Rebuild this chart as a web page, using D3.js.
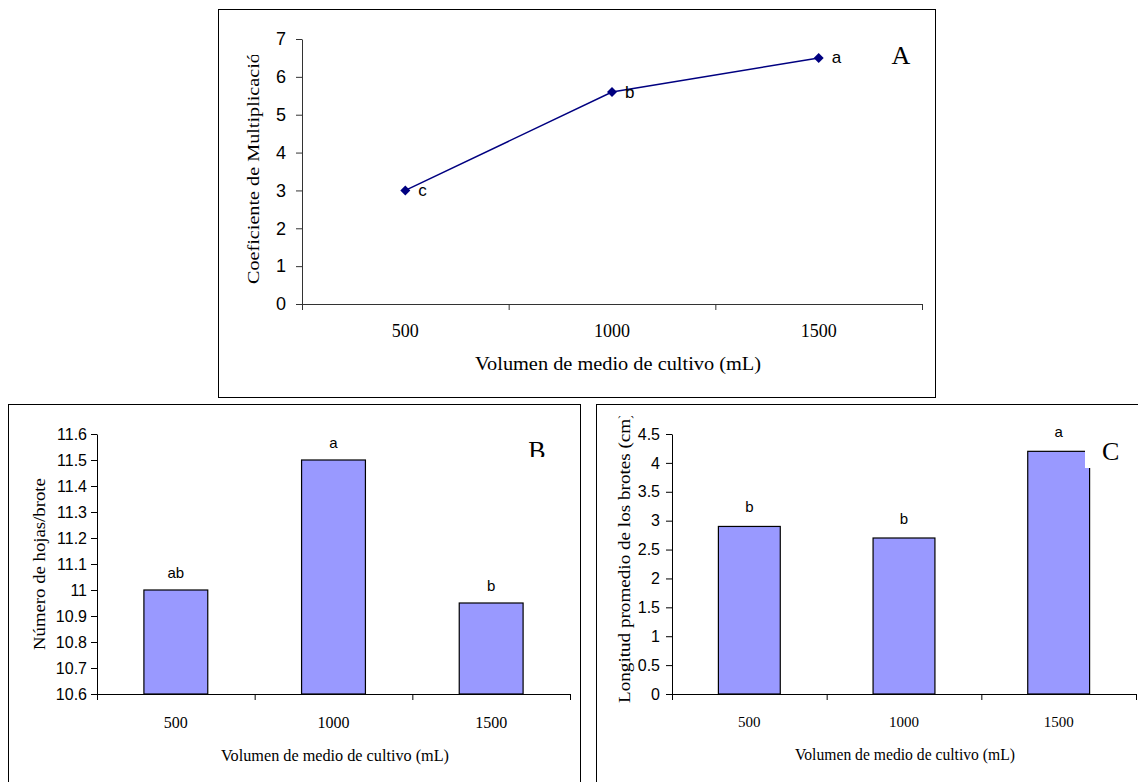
<!DOCTYPE html>
<html>
<head>
<meta charset="utf-8">
<script src="https://cdn.jsdelivr.net/npm/d3@7"></script>
<style>
  body { margin: 0; background: #fff; }
  svg { display: block; }
  .serif { font-family: "Liberation Serif", "Times New Roman", serif; }
  .sans { font-family: "Liberation Sans", Arial, sans-serif; }
</style>
</head>
<body>
<div id="chart"></div>
<script>
// data
const volumes = ["500", "1000", "1500"];
const coefMult = [3.0, 5.6, 6.5];
const lettersA = ["c", "b", "a"];
const hojas = [11.0, 11.5, 10.95];
const lettersB = ["ab", "a", "b"];
const longitud = [2.9, 2.7, 4.2];
const lettersC = ["b", "b", "a"];
const ticksA = [0, 1, 2, 3, 4, 5, 6, 7];
const ticksB = [10.6, 10.7, 10.8, 10.9, 11.0, 11.1, 11.2, 11.3, 11.4, 11.5, 11.6];
const ticksC = [0, 0.5, 1, 1.5, 2, 2.5, 3, 3.5, 4, 4.5];
const xTitle = "Volumen de medio de cultivo (mL)";

const W = 1138, H = 782;
const svg = d3.select("#chart").append("svg")
  .attr("width", W).attr("height", H);

const defs = svg.append("defs");
let clipN = 0;
function clipRect(x, y, w, h) {
  const id = "clip" + (clipN++);
  defs.append("clipPath").attr("id", id).append("rect")
    .attr("x", x).attr("y", y).attr("width", w).attr("height", h);
  return `url(#${id})`;
}

// panel frames
svg.append("rect").attr("x", 218.5).attr("y", 9.5).attr("width", 717).attr("height", 388)
  .attr("fill", "none").attr("stroke", "#000");
svg.append("rect").attr("x", 8.5).attr("y", 404.5).attr("width", 572).attr("height", 400)
  .attr("fill", "none").attr("stroke", "#000");
svg.append("rect").attr("x", 596.5).attr("y", 404.5).attr("width", 600).attr("height", 400)
  .attr("fill", "none").attr("stroke", "#000");

// shared axis builder
function drawAxes(opt) {
  const g = svg.append("g");
  const xLin = d3.scaleLinear().domain([0, volumes.length]).range([opt.x0, opt.x1]);
  const xb = d3.scaleBand().domain(volumes).range([opt.x0, opt.x1])
    .paddingInner(opt.pad).paddingOuter(opt.pad / 2);
  const y = d3.scaleLinear().domain(opt.yDomain).range([opt.yBottom, opt.yTop]);

  // y axis
  const ya = g.append("g").attr("transform", `translate(${opt.x0},0)`)
    .call(d3.axisLeft(y).tickValues(opt.yTicks).tickSize(6).tickSizeOuter(0)
      .tickPadding(opt.yPad).tickFormat(d => String(+d.toFixed(2))));
  ya.selectAll("text").attr("class", "sans").style("font-size", opt.yFont + "px")
    .attr("fill", "#000");
  ya.selectAll("line,path").attr("stroke", opt.axisColor);

  // x axis line with ticks at band edges
  const xa = g.append("g").attr("transform", `translate(0,${opt.yBottom})`)
    .call(d3.axisBottom(xLin).tickValues(d3.range(volumes.length + 1)).tickSize(6)
      .tickSizeOuter(0).tickFormat(""));
  xa.selectAll("line,path").attr("stroke", opt.axisColor);

  // category labels
  const xl = g.append("g").attr("transform", `translate(0,${opt.yBottom})`)
    .call(d3.axisBottom(xb).tickSize(0).tickPadding(opt.xPad));
  xl.select(".domain").remove();
  xl.selectAll("text").attr("class", "serif").style("font-size", opt.xFont + "px")
    .attr("fill", "#000");

  // x axis title, stretched to the width seen in the figure
  g.append("text").attr("class", "serif")
    .attr("x", opt.xTitleX).attr("y", opt.xTitleY)
    .attr("text-anchor", "middle").style("font-size", opt.titleFont + "px")
    .attr("textLength", opt.xTitleLen).attr("lengthAdjust", "spacingAndGlyphs")
    .text(xTitle);

  // y axis title: starts at the bottom, stretched along its baseline
  const yg = g.append("g");
  if (opt.yTitleClip) yg.attr("clip-path", clipRect(0, opt.yTitleClip, W, H));
  const yt = yg.append("text").attr("class", "serif")
    .attr("text-anchor", "start").attr("dominant-baseline", "central")
    .style("font-size", opt.yTitleFont + "px")
    .text(opt.yTitle);
  const n = opt.yTitleChars || opt.yTitle.length;
  const natural = yt.node().getSubStringLength(0, n);
  const s = opt.yTitleLen / natural;
  yt.attr("transform",
    `translate(${opt.yTitleX},${opt.yTitleBottom}) rotate(-90) scale(${s},1)`);
  return {g, xb, y};
}

// Panel A: line chart
const A = drawAxes({
  x0: 302, x1: 922, yBottom: 304, yTop: 39, yDomain: [0, 7], yTicks: ticksA,
  pad: 0.6, yPad: 10, yFont: 18, xPad: 20, xFont: 18, axisColor: "#333",
  titleFont: 18, xTitleX: 618, xTitleY: 370, xTitleLen: 286,
  yTitle: "Coeficiente de Multiplicación", yTitleX: 253, yTitleBottom: 284,
  yTitleFont: 17, yTitleChars: 27, yTitleLen: 221, yTitleClip: 55
});
const cx = d => A.xb(d) + A.xb.bandwidth() / 2;
const lineData = volumes.map((v, i) => ({v, val: coefMult[i], lab: lettersA[i]}));
A.g.append("path").datum(lineData)
  .attr("fill", "none").attr("stroke", "#000080").attr("stroke-width", 1.5)
  .attr("d", d3.line().x(d => cx(d.v)).y(d => A.y(d.val)));
A.g.selectAll(".pt").data(lineData).join("path")
  .attr("transform", d => `translate(${cx(d.v)},${A.y(d.val)}) rotate(45)`)
  .attr("d", d3.symbol(d3.symbolSquare, 50))
  .attr("fill", "#000080");
A.g.selectAll(".lab").data(lineData).join("text")
  .attr("class", "sans").style("font-size", "17px")
  .attr("x", d => cx(d.v) + 13).attr("y", d => A.y(d.val))
  .attr("dominant-baseline", "central")
  .text(d => d.lab);
A.g.append("text").attr("class", "serif").style("font-size", "26px")
  .attr("x", 901).attr("y", 64).attr("text-anchor", "middle").text("A");

// bar panels
function drawBars(P, values, letters, off) {
  const data = volumes.map((v, i) => ({v, val: values[i], lab: letters[i]}));
  const base = P.y.range()[0];
  P.g.selectAll(".bar").data(data).join("rect")
    .attr("x", d => P.xb(d.v)).attr("width", P.xb.bandwidth())
    .attr("y", d => P.y(d.val)).attr("height", d => base - P.y(d.val))
    .attr("fill", "#9999FF").attr("stroke", "#000").attr("stroke-width", 1.2);
  P.g.selectAll(".blab").data(data).join("text")
    .attr("class", "sans").style("font-size", "15px")
    .attr("x", d => P.xb(d.v) + P.xb.bandwidth() / 2).attr("y", d => P.y(d.val) - off)
    .attr("text-anchor", "middle").text(d => d.lab);
}

// Panel B
const B = drawAxes({
  x0: 97, x1: 570, yBottom: 694, yTop: 434, yDomain: [10.6, 11.6], yTicks: ticksB,
  pad: 0.595, yPad: 4, yFont: 16, xPad: 23, xFont: 16, axisColor: "#000",
  titleFont: 16, xTitleX: 335, xTitleY: 761, xTitleLen: 228,
  yTitle: "Número de hojas/brote", yTitleX: 39, yTitleBottom: 650,
  yTitleFont: 16, yTitleLen: 172
});
drawBars(B, hojas, lettersB, 12);
B.g.append("text").attr("class", "serif").style("font-size", "26px")
  .attr("clip-path", clipRect(500, 420, 80, 37))
  .attr("x", 537).attr("y", 459).attr("text-anchor", "middle").text("B");

// Panel C
const C = drawAxes({
  x0: 672, x1: 1136, yBottom: 694, yTop: 434, yDomain: [0, 4.5], yTicks: ticksC,
  pad: 0.6, yPad: 6, yFont: 16, xPad: 22, xFont: 15, axisColor: "#000",
  titleFont: 16, xTitleX: 905, xTitleY: 760, xTitleLen: 220,
  yTitle: "Longitud promedio de los brotes (cm)", yTitleX: 625, yTitleBottom: 703,
  yTitleFont: 16, yTitleLen: 291, yTitleClip: 416
});
drawBars(C, longitud, lettersC, 14);
// label box of "C" covers part of the last bar
C.g.append("rect").attr("x", 1085).attr("y", 440).attr("width", 38).attr("height", 28)
  .attr("fill", "#fff");
C.g.append("text").attr("class", "serif").style("font-size", "26px")
  .attr("clip-path", clipRect(1085, 430, 38, 40))
  .attr("x", 1102).attr("y", 460).text("C");
</script>
</body>
</html>
